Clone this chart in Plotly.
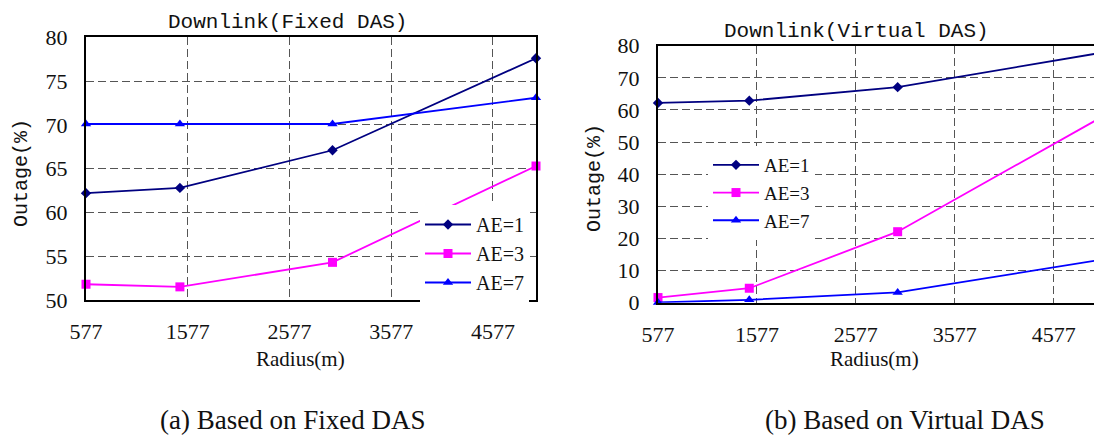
import plotly.graph_objects as go

# ---------------- data ----------------
radius = [577, 1500, 3000, 5000]
x_ticks = [577, 1577, 2577, 3577, 4577]

series_names = ["AE=1", "AE=3", "AE=7"]
fixed_ae1 = [62.2, 62.8, 67.1, 77.6]
fixed_ae3 = [51.8, 51.5, 54.3, 65.3]
fixed_ae7 = [70.1, 70.1, 70.1, 73.1]

virtual_ae1 = [62.2, 62.9, 67.1, 77.5]
virtual_ae3 = [1.6, 4.5, 22.1, 56.7]
virtual_ae7 = [0.1, 0.9, 3.2, 13.1]

colors = ["#000080", "#FF00FF", "#0000FF"]
symbols = ["diamond", "square", "triangle-up"]
sizes = [8, 9, 9]

W, H = 1094, 437

SERIF = "Liberation Serif, Times New Roman, Times, DejaVu Serif, serif"
MONO = "Liberation Mono, Courier New, Courier, monospace"


def px(x):
    return x / W


def py(y):
    return 1 - y / H


fig = go.Figure()

fixed = [fixed_ae1, fixed_ae3, fixed_ae7]
virtual = [virtual_ae1, virtual_ae3, virtual_ae7]

for i, name in enumerate(series_names):
    fig.add_trace(go.Scatter(
        x=radius, y=fixed[i], name=name, mode="lines+markers",
        line=dict(color=colors[i], width=1.8),
        marker=dict(symbol=symbols[i], size=sizes[i], color=colors[i]),
        xaxis="x", yaxis="y", legend="legend", cliponaxis=False))
for i, name in enumerate(series_names):
    fig.add_trace(go.Scatter(
        x=radius, y=virtual[i], name=name, mode="lines+markers",
        line=dict(color=colors[i], width=1.8),
        marker=dict(symbol=symbols[i], size=sizes[i], color=colors[i]),
        xaxis="x2", yaxis="y2", legend="legend2", cliponaxis=False))

tick_font = dict(family=SERIF, size=22, color="#111")
grid = dict(showgrid=True, gridcolor="#555", gridwidth=1, griddash="8px,4px",
            zeroline=False, ticks="", tickfont=tick_font, automargin=False)

fig.update_layout(
    template="none",
    width=W, height=H,
    margin=dict(l=0, r=0, t=0, b=0, autoexpand=False),
    paper_bgcolor="white", plot_bgcolor="white",
    showlegend=True,
    font=dict(family=SERIF, color="#111"),
    xaxis=dict(domain=[px(86), px(536)], range=[577, 5000], tickvals=x_ticks,
               showline=True, linecolor="black", linewidth=2, mirror=True,
               ticklabelstandoff=11, anchor="y", **grid),
    yaxis=dict(domain=[py(300), py(37.3)], range=[50, 80], dtick=5, tick0=50,
               showline=True, linecolor="black", linewidth=2, mirror=True,
               ticklabelstandoff=12, anchor="x", **grid),
    xaxis2=dict(domain=[px(658), 1.0], range=[577, 4985], tickvals=x_ticks,
                showline=True, linecolor="black", linewidth=2, mirror=True,
                ticklabelstandoff=11, anchor="y2", **grid),
    yaxis2=dict(domain=[py(302.7), py(45.7)], range=[0, 80], dtick=10, tick0=0,
                showline=True, linecolor="black", linewidth=2, mirror=False,
                ticklabelstandoff=12, anchor="x2", **grid),
    legend=dict(x=px(420), y=py(205), xanchor="left", yanchor="top",
                bgcolor="white", borderwidth=0, itemwidth=46,
                font=dict(family=SERIF, size=20, color="#111"),
                tracegroupgap=0),
    legend2=dict(x=px(708), y=py(146), xanchor="left", yanchor="top",
                 bgcolor="white", borderwidth=0, itemwidth=46,
                 font=dict(family=SERIF, size=19, color="#111"),
                 tracegroupgap=0),
)

mono = dict(family=MONO, size=21, color="#111")
mono_y = dict(family=MONO, size=20, color="#111")
serif = dict(family=SERIF, size=21, color="#111")
cap = dict(family=SERIF, size=27, color="#111")

annots = [
    dict(text="Downlink(Fixed DAS)", x=px(287), y=py(23), font=mono),
    dict(text="Downlink(Virtual DAS)", x=px(856), y=py(32), font=mono),
    dict(text="Outage(%)", x=px(22), y=py(173), font=mono_y, textangle=-90),
    dict(text="Outage(%)", x=px(594), y=py(178), font=mono_y, textangle=-90),
    dict(text="Radius(m)", x=px(300), y=py(359), font=serif),
    dict(text="Radius(m)", x=px(874), y=py(359), font=serif),
    dict(text="(a) Based on Fixed DAS", x=px(292), y=py(420), font=cap),
    dict(text="(b) Based on Virtual DAS", x=px(905), y=py(420), font=cap),
]
for a in annots:
    fig.add_annotation(xref="paper", yref="paper", showarrow=False,
                       xanchor="center", yanchor="middle", **a)

fig.write_html(
    "out.html",
    config={"displayModeBar": False},
    post_script="document.body.style.margin='0';document.body.style.overflow='hidden';",
)
